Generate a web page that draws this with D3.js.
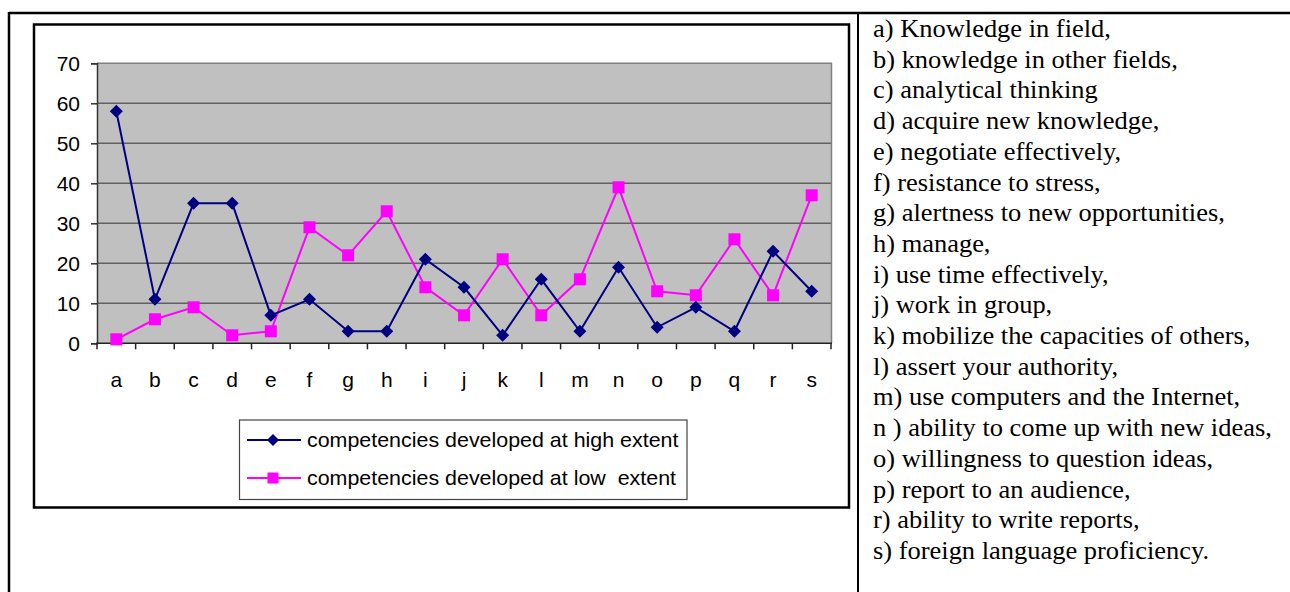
<!DOCTYPE html>
<html><head><meta charset="utf-8">
<script src="https://cdn.jsdelivr.net/npm/d3@7"></script>
<style>
html,body{margin:0;padding:0;background:#fff;}
svg{display:block;}
</style></head>
<body>
<svg id="c" width="1290" height="592"></svg>
<script>
const categories = ["a","b","c","d","e","f","g","h","i","j","k","l","m","n","o","p","q","r","s"];
const highValues = [58,11,35,35,7,11,3,3,21,14,2,16,3,19,4,9,3,23,13];
const lowValues  = [1,6,9,2,3,29,22,33,14,7,21,7,16,39,13,12,26,12,37];
const yTicks = [0,10,20,30,40,50,60,70];
const seriesNames = ["competencies developed at high extent","competencies developed at low  extent"];
const keyLines = [
 "a) Knowledge in field,",
 "b) knowledge in other fields,",
 "c) analytical thinking",
 "d) acquire new knowledge,",
 "e) negotiate effectively,",
 "f) resistance to stress,",
 "g) alertness to new opportunities,",
 "h) manage,",
 "i) use time effectively,",
 "j) work in group,",
 "k) mobilize the capacities of others,",
 "l) assert your authority,",
 "m) use computers and the Internet,",
 "n ) ability to come up with new ideas,",
 "o) willingness to question ideas,",
 "p) report to an audience,",
 "r) ability to write reports,",
 "s) foreign language proficiency."
];

const svg = d3.select("#c");
const sans = "'Liberation Sans', Arial, sans-serif";
const serif = "'Liberation Serif', 'Times New Roman', serif";

// outer table lines
svg.append("line").attr("x1",9).attr("x2",1290).attr("y1",13).attr("y2",13).attr("stroke","#000").attr("stroke-width",2.5);
svg.append("line").attr("x1",9).attr("x2",9).attr("y1",12).attr("y2",592).attr("stroke","#000").attr("stroke-width",2.5);
svg.append("line").attr("x1",858).attr("x2",858).attr("y1",12).attr("y2",592).attr("stroke","#000").attr("stroke-width",2);

// chart box
svg.append("rect").attr("x",34).attr("y",24.5).attr("width",815).attr("height",483)
  .attr("fill","#fff").attr("stroke","#000").attr("stroke-width",2.5);

const L=97, R=831, T=63.3, B=343.3;
const x = d3.scaleBand().domain(categories).range([L,R]).padding(0);
const y = d3.scaleLinear().domain([0,70]).range([B,T]);
const cx = d => x(d)+x.bandwidth()/2;

// plot area
svg.append("rect").attr("x",L).attr("y",T).attr("width",R-L).attr("height",B-T).attr("fill","#C0C0C0");
// gridlines
svg.append("g").selectAll("line").data(yTicks.filter(v=>v>0&&v<70)).join("line")
  .attr("x1",L).attr("x2",R).attr("y1",d=>y(d)).attr("y2",d=>y(d))
  .attr("stroke","#606060").attr("stroke-width",1.5);
// top and right border
svg.append("line").attr("x1",L).attr("x2",R+1).attr("y1",T).attr("y2",T).attr("stroke","#808080").attr("stroke-width",1.5);
svg.append("line").attr("x1",R+0.5).attr("x2",R+0.5).attr("y1",T).attr("y2",B).attr("stroke","#808080").attr("stroke-width",1.5);

// y axis
const ya = svg.append("g").attr("transform",`translate(${L},0)`)
  .call(d3.axisLeft(y).tickValues(yTicks).tickSize(6).tickPadding(11));
ya.select(".domain").attr("stroke","#333").attr("stroke-width",1.5);
ya.selectAll(".tick line").attr("stroke","#333").attr("stroke-width",1.5);
ya.selectAll("text").attr("font-family",sans).attr("font-size",21).attr("fill","#000");

// x axis
const xa = svg.append("g").attr("transform",`translate(0,${B})`)
  .call(d3.axisBottom(x).tickSize(0).tickPadding(29));
xa.select(".domain").remove();
xa.selectAll("text").attr("font-family",sans).attr("font-size",21).attr("fill","#000");
svg.append("line").attr("x1",L-1).attr("x2",R+1).attr("y1",B).attr("y2",B).attr("stroke","#222").attr("stroke-width",1.5);
svg.append("g").selectAll("line").data(d3.range(categories.length+1)).join("line")
  .attr("x1",i=>L+i*x.step()).attr("x2",i=>L+i*x.step()).attr("y1",B).attr("y2",B+6)
  .attr("stroke","#222").attr("stroke-width",1.5);

const line = d3.line().x((d,i)=>cx(categories[i])).y(d=>y(d));
const diamond = s => `M0,${-s}L${s},0L0,${s}L${-s},0Z`;

// low series
svg.append("path").datum(lowValues).attr("d",line).attr("fill","none").attr("stroke","#FF00FF").attr("stroke-width",2);
svg.append("g").selectAll("rect").data(lowValues).join("rect")
  .attr("x",(d,i)=>cx(categories[i])-6).attr("y",d=>y(d)-6).attr("width",12).attr("height",12)
  .attr("fill","#FF00FF");
// high series
svg.append("path").datum(highValues).attr("d",line).attr("fill","none").attr("stroke","#000080").attr("stroke-width",2);
svg.append("g").selectAll("path").data(highValues).join("path")
  .attr("transform",(d,i)=>`translate(${cx(categories[i])},${y(d)})`)
  .attr("d",diamond(6.5)).attr("fill","#000080");

// legend
const lg = svg.append("g");
lg.append("rect").attr("x",239.5).attr("y",420).attr("width",447.5).attr("height",79.5)
  .attr("fill","#fff").attr("stroke","#444").attr("stroke-width",1.2);
const rows = [{name:seriesNames[0],color:"#000080",shape:"d",y:440},{name:seriesNames[1],color:"#FF00FF",shape:"s",y:478}];
rows.forEach(r=>{
  lg.append("line").attr("x1",247).attr("x2",301).attr("y1",r.y).attr("y2",r.y).attr("stroke",r.color).attr("stroke-width",2);
  if(r.shape==="d") lg.append("path").attr("transform",`translate(273,${r.y})`).attr("d",diamond(6)).attr("fill",r.color);
  else lg.append("rect").attr("x",267.5).attr("y",r.y-5.5).attr("width",11).attr("height",11).attr("fill",r.color);
  lg.append("text").attr("transform",`translate(307,${r.y}) scale(1.02,1)`).attr("dy","0.35em").attr("font-family",sans).attr("font-size",21)
    .style("white-space","pre").attr("fill","#000").text(r.name);
});

// key list
svg.append("g").selectAll("text").data(keyLines).join("text")
  .attr("transform",(d,i)=>`translate(873,${37+i*30.7}) scale(1.08,1)`)
  .attr("font-family",serif).attr("font-size",24.5).attr("fill","#000")
  .text(d=>d);
</script>
</body></html>
